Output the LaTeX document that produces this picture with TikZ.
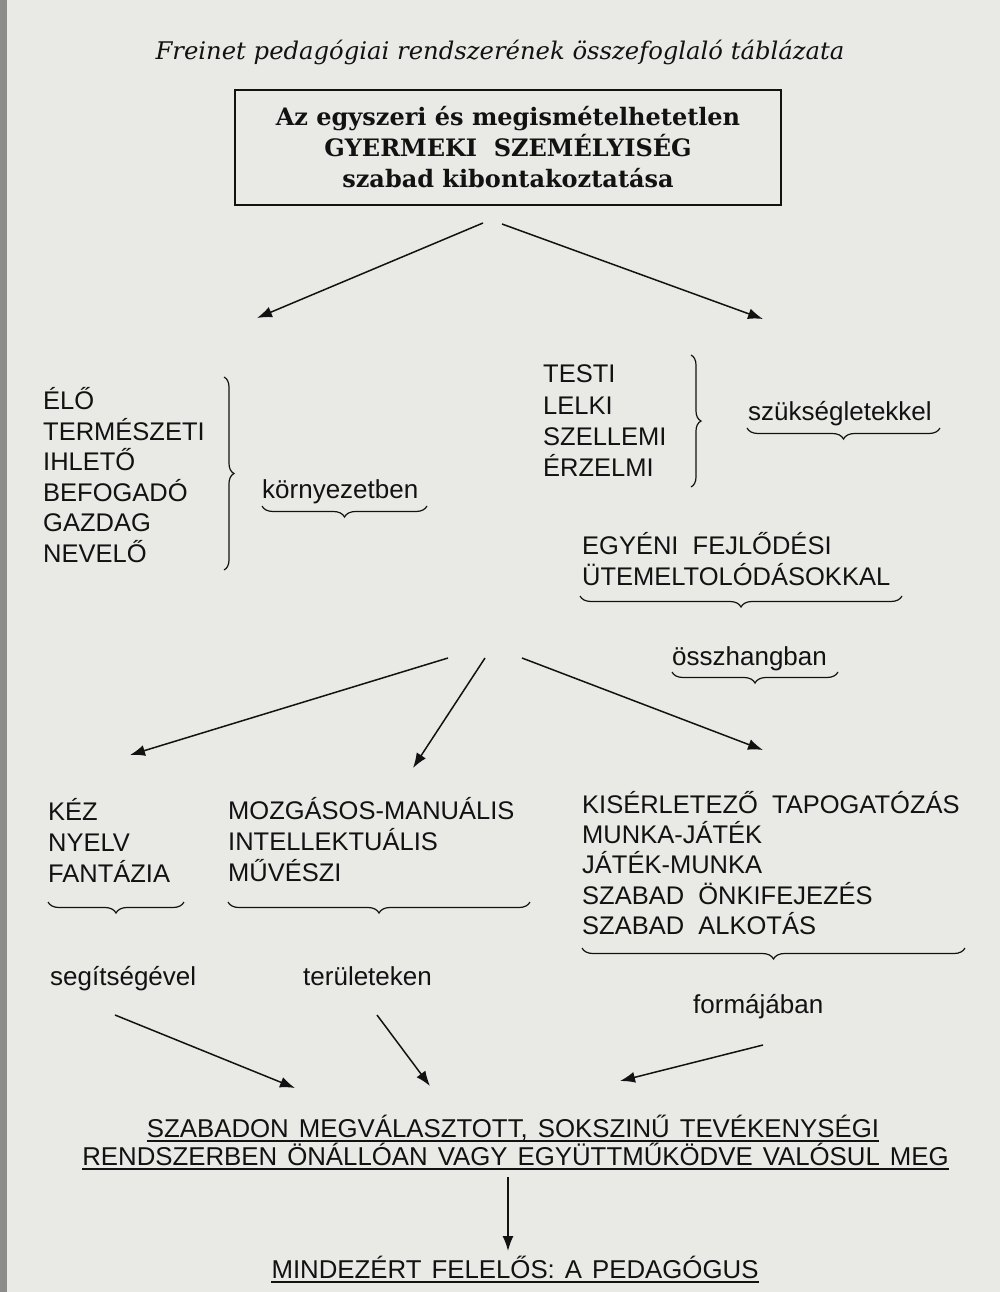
\documentclass[tikz,border=0pt]{standalone}
\usepackage{fontspec}
\setmainfont{Liberation Sans}
\newfontfamily\bookfont{DejaVu Serif}
\newfontfamily\widefont[WordSpace=1.4]{Liberation Sans}
\usetikzlibrary{arrows.meta,positioning}
\usetikzlibrary{decorations.pathreplacing,calc}
\usepackage{xcolor}
\definecolor{paper}{RGB}{233,233,230}
\definecolor{ink}{RGB}{18,18,18}
\tikzset{
    item/.style={
        align=left,anchor=west,inner sep=0pt,text=ink,
        font=\fontsize{25.5}{30.5}\selectfont
    },
    word/.style={
        anchor=base west,inner sep=0pt,text=ink,
        font=\fontsize{26}{30}\selectfont
    },
    line/.style={
        anchor=base,inner sep=0pt,text=ink,
        font=\widefont\fontsize{25.8}{30}\selectfont
    },
    arrow/.style={
        -{Latex[length=15pt,width=11pt]},line width=1.5pt,draw=ink
    },
    curly/.style={
        decorate,decoration={brace,amplitude=#1},line width=1.2pt,draw=ink
    },
    curly/.default=11pt,
    uline/.style={line width=1.5pt,draw=ink}
}

\begin{document}
\begin{tikzpicture}[x=1pt,y=-1pt]

\fill[paper] (0,0) rectangle (1000,1292);
\fill[black!45] (0,0) rectangle (7,1292);
\useasboundingbox (0,0) rectangle (1000,1292);

\node[anchor=base,inner sep=0pt,text=ink,font=\bookfont\itshape\fontsize{24.3}{28}\selectfont]
(title) at (500,60) {Freinet pedagógiai rendszerének összefoglaló táblázata};

\node[
draw=ink,line width=2pt,minimum width=546pt,minimum height=115pt,
align=center,text=ink,font=\bookfont\bfseries\fontsize{24}{31}\selectfont
]
(core) at (508,147.5)
{
Az egyszeri és megismételhetetlen\\
GYERMEKI\ \ SZEMÉLYISÉG\\
szabad kibontakoztatása
};

% elso szint
\coordinate (c1) at (483,223);
\coordinate (c2) at (502,224);
\coordinate (l1) at (257,318);
\coordinate (r1) at (763,319);
\draw[arrow] (c1) -- (l1);
\draw[arrow] (c2) -- (r1);

\node[item] (env) at (43,475) {ÉLŐ\\TERMÉSZETI\\IHLETŐ\\BEFOGADÓ\\GAZDAG\\NEVELŐ};
\draw[curly=10pt] (224,377) -- (224,570);
\node[word] (envw) at (262,498) {környezetben};
\draw[curly] (427,506) -- (262,506);

\node[item,font=\fontsize{25.5}{31.3}\selectfont] (needs) at (543,421) {TESTI\\LELKI\\SZELLEMI\\ÉRZELMI};
\draw[curly=10pt] (691,355) -- (691,487);
\node[word] (needw) at (748,420) {szükségletekkel};
\draw[curly] (940,428) -- (747,428);

\node[item] (pace) at (582,559) {EGYÉNI\ \ FEJLŐDÉSI\\ÜTEMELTOLÓDÁSOKKAL};
\draw[curly] (902,596) -- (580,596);
\node[word] (harm) at (672,665) {összhangban};
\draw[curly] (838,672) -- (672,672);

% masodik szint
\coordinate (h1) at (448,658);
\coordinate (h2) at (485,658);
\coordinate (h3) at (522,658);
\coordinate (t1) at (130,755);
\coordinate (t2) at (413,768);
\coordinate (t3) at (763,750);
\draw[arrow] (h1) -- (t1);
\draw[arrow] (h2) -- (t2);
\draw[arrow] (h3) -- (t3);

\node[item,font=\fontsize{25.5}{31}\selectfont] (tool) at (48,840) {KÉZ\\NYELV\\FANTÁZIA};
\node[item,font=\fontsize{25.5}{31}\selectfont] (area) at (228,840) {MOZGÁSOS-MANUÁLIS\\INTELLEKTUÁLIS\\MŰVÉSZI};
\node[item,font=\fontsize{25.5}{30.2}\selectfont] (form) at (582,863)
{KISÉRLETEZŐ\ \ TAPOGATÓZÁS\\MUNKA-JÁTÉK\\JÁTÉK-MUNKA\\SZABAD\ \ ÖNKIFEJEZÉS\\SZABAD\ \ ALKOTÁS};
\draw[curly] (184,902) -- (48,902);
\draw[curly] (530,902) -- (228,902);
\draw[curly] (965,948) -- (582,948);

\node[word] (toolw) at (50,985) {segítségével};
\node[word] (areaw) at (303,985) {területeken};
\node[word] (formw) at (693,1013) {formájában};

% harmadik szint
\coordinate (s1) at (115,1015);
\coordinate (s2) at (377,1015);
\coordinate (s3) at (763,1045);
\coordinate (e1) at (295,1088);
\coordinate (e2) at (430,1086);
\coordinate (e3) at (620,1081);
\draw[arrow] (s1) -- (e1);
\draw[arrow] (s2) -- (e2);
\draw[arrow] (s3) -- (e3);

\node[line] (act1) at (513,1137) {SZABADON MEGVÁLASZTOTT, SOKSZINŰ TEVÉKENYSÉGI};
\node[line] (act2) at (515.5,1165) {RENDSZERBEN ÖNÁLLÓAN VAGY EGYÜTTMŰKÖDVE VALÓSUL MEG};
\draw[uline] ([yshift=-4pt]act1.base west) -- ([yshift=-4pt]act1.base east);
\draw[uline] ([yshift=-4pt]act2.base west) -- ([yshift=-4pt]act2.base east);

\node[line] (resp) at (515,1278) {MINDEZÉRT FELELŐS: A PEDAGÓGUS};
\draw[uline] ([yshift=-4pt]resp.base west) -- ([yshift=-4pt]resp.base east);

\draw[arrow] ([yshift=-12pt]act2.base -| core.south) -- ([yshift=-86pt]act2.base -| core.south);

\end{tikzpicture}
\end{document}
